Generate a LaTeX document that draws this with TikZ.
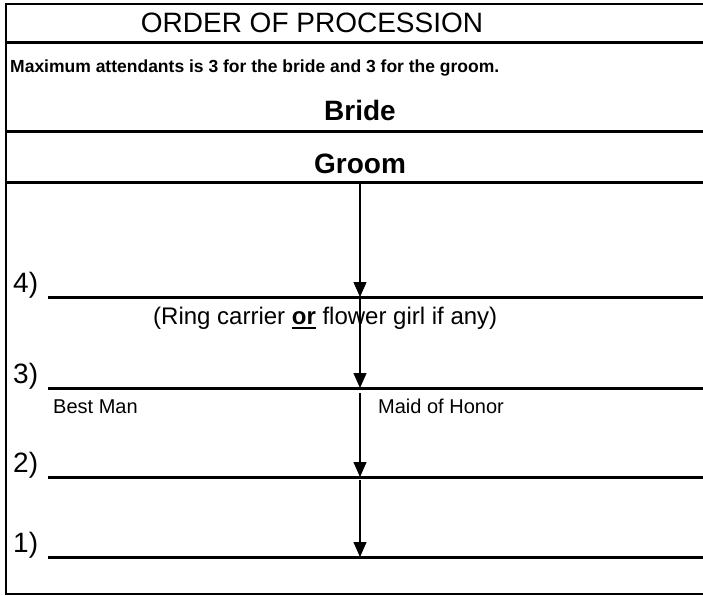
\documentclass[tikz,border=0pt]{standalone}
\usepackage{fontspec}
\setmainfont{Liberation Sans}
\usetikzlibrary{arrows.meta}
\tikzstyle{border}=[line width=2.5pt]
\tikzstyle{hrule}=[line width=3pt]
\tikzstyle{walk}=[line width=1.3pt, -{Triangle[length=15pt,width=13pt]}]
\tikzstyle{heading}=[anchor=base, inner sep=0pt, font=\fontsize{28}{32}\selectfont]
\tikzstyle{note}=[anchor=base west, inner sep=0pt, font=\bfseries\fontsize{17.5}{20}\selectfont]
\tikzstyle{party}=[anchor=base, inner sep=0pt, font=\bfseries\fontsize{28}{32}\selectfont]
\tikzstyle{num}=[anchor=base west, inner sep=0pt, font=\fontsize{28}{32}\selectfont]
\tikzstyle{role}=[anchor=base west, inner sep=0pt, font=\fontsize{20}{24}\selectfont]
\newcommand\ulbold[1]{\vtop{\hbox{#1}\kern2.5pt\hrule height 2.5pt}}

\begin{document}
\begin{tikzpicture}[x=1pt,y=-1pt]
\useasboundingbox (0,0) rectangle (703,596);
% outer frame and header rules
\draw[border] (703,4) -- (6,4) -- (6,594) -- (703,594);
\draw[hrule] (6,43) -- (703,43);
\draw[hrule] (6,132) -- (703,132);
\draw[hrule] (6,182) -- (703,182);

\node[heading] (head) at (312,33) {ORDER OF PROCESSION};
\node[note] (rule) at (10,73) {Maximum attendants is 3 for the bride and 3 for the groom.};
\node[party] (bride) at (360,121) {Bride};
\node[party] (groom) at (360,173) {Groom};

% numbered places
\foreach \n/\y in {4/297,3/388,2/477,1/557}{
  \draw[hrule] (48,\y) -- (703,\y);
  \node[num] (p\n) at (13,\y-5) {\n)};
  \coordinate (s\n) at (360,\y);
}
\node[role, font=\fontsize{24}{28}\selectfont] (ring) at (153,324) {(Ring carrier \ulbold{\bfseries or} flower girl if any)};
\node[role] (best) at (53,413) {Best Man};
\node[role] (maid) at (378,413) {Maid of Honor};

% walking order
\coordinate (g) at (360,182);
\coordinate (t4) at (360,299);
\coordinate (t3) at (360,393);
\coordinate (t2) at (360,480);
\draw[walk] (g) -- (s4);
\draw[walk] (t4) -- (s3);
\draw[walk] (t3) -- (s2);
\draw[walk] (t2) -- (s1);
\end{tikzpicture}
\end{document}
